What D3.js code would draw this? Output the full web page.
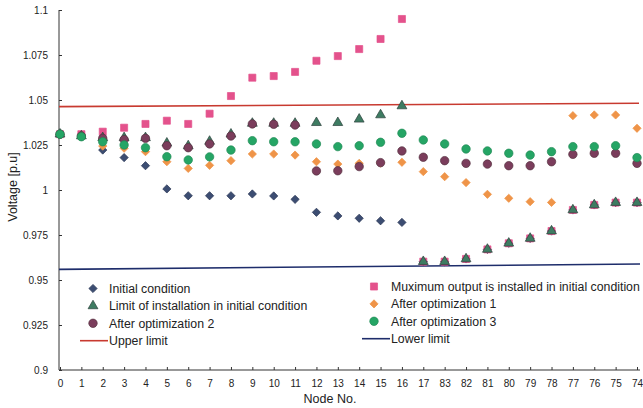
<!DOCTYPE html>
<html><head><meta charset="utf-8">
<script src="https://cdn.jsdelivr.net/npm/d3@7"></script>
<style>body{margin:0;background:#fff}svg{display:block}text{font-family:"Liberation Sans",Arial,sans-serif;fill:#222}</style>
</head><body><svg id="c" width="643" height="408"></svg>
<script>
const categories = ["0","1","2","3","4","5","6","7","8","9","10","11","12","13","14","15","16","17","83","82","81","80","79","78","77","76","75","74"];
const yTicks = [0.9,0.925,0.95,0.975,1,1.025,1.05,1.075,1.1];
const lowBranch = [0.9602,0.9602,0.9617,0.967,0.9704,0.9731,0.9772,0.9889,0.9917,0.993,0.993];
const initialCondition = [1.031,1.030,1.0222,1.018,1.0135,1.0006,0.9968,0.9968,0.9968,0.9978,0.9967,0.9948,0.9876,0.9856,0.9843,0.9829,0.982].concat(lowBranch);
const maximumOutput = [1.031,1.031,1.0324,1.0346,1.0367,1.0385,1.0367,1.0424,1.0522,1.0624,1.0633,1.0656,1.0718,1.0744,1.0783,1.0839,1.095].concat(lowBranch);
const limitInstallation = [1.031,1.030,1.029,1.029,1.029,1.026,1.0245,1.027,1.031,1.037,1.037,1.037,1.0374,1.0374,1.0393,1.0417,1.0467].concat(lowBranch);
const afterOpt1 = [1.031,1.030,1.0244,1.0232,1.0213,1.0157,1.012,1.0137,1.0163,1.020,1.020,1.0194,1.0157,1.0144,1.0148,1.015,1.0154,1.0102,1.0074,1.0041,0.9976,0.9954,0.9935,0.9931,1.0413,1.0417,1.0417,1.0343];
const afterOpt2 = [1.031,1.030,1.0287,1.028,1.0287,1.0246,1.0235,1.0256,1.030,1.0367,1.0365,1.0361,1.0106,1.0107,1.013,1.0152,1.0217,1.0182,1.0163,1.0148,1.0144,1.0135,1.0135,1.0157,1.0198,1.0204,1.0204,1.0148];
const afterOpt3 = [1.031,1.0296,1.0268,1.025,1.0235,1.0185,1.0167,1.0184,1.0222,1.0274,1.0268,1.0268,1.0256,1.0241,1.0246,1.0265,1.0315,1.0278,1.0256,1.0228,1.0217,1.0204,1.0194,1.0213,1.0241,1.0241,1.0246,1.018];
const upperLimit = [1.0463,1.0482];
const lowerLimit = [0.9559,0.9589];

const svg = d3.select("#c");
const x = d3.scalePoint().domain(categories).range([60,637]);
const y = d3.scaleLinear().domain([0.9,1.1]).range([370,10]);
const axisX = 59;

// y axis
const ya = svg.append("g").attr("transform",`translate(${axisX},0)`)
  .call(d3.axisLeft(y).tickValues(yTicks).tickSize(-3).tickPadding(11).tickFormat(d=>String(+d.toFixed(3))));
ya.select(".domain").attr("stroke","#333").attr("d","M0,10V370");
ya.selectAll("line").attr("stroke","#333");
ya.selectAll("text").attr("font-size",10).attr("fill","#333");

// x axis
const xa = svg.append("g").attr("transform","translate(0,370)")
  .call(d3.axisBottom(x).tickSize(-3).tickPadding(10));
xa.select(".domain").attr("stroke","#333").attr("d",`M${axisX},0H640`);
xa.selectAll("line").attr("stroke","#333");
xa.selectAll("text").attr("font-size",10).attr("fill","#333");

svg.append("text").attr("x",330).attr("y",403).attr("text-anchor","middle").attr("font-size",12.5).text("Node No.");
svg.append("text").attr("transform","translate(17,187) rotate(-90)").attr("text-anchor","middle").attr("font-size",12.5).text("Voltage [p.u]");

// limit lines
const first = categories[0], last = categories[categories.length-1];
svg.append("line").attr("x1",x(first)-1).attr("x2",x(last)+2).attr("y1",y(upperLimit[0])).attr("y2",y(upperLimit[1])).attr("stroke","#c83a30").attr("stroke-width",1.6);
svg.append("line").attr("x1",x(first)-1).attr("x2",x(last)+3).attr("y1",y(lowerLimit[0])).attr("y2",y(lowerLimit[1])).attr("stroke","#1e2d6b").attr("stroke-width",1.6);

const series = [
  {name:"Initial condition", data:initialCondition, sym:d3.symbolSquare, size:34, rot:45, fill:"#3c4d72", stroke:"#2c3856"},
  {name:"Muximum output is installed in initial condition", data:maximumOutput, sym:d3.symbolSquare, size:50, rot:0, fill:"#e4528c", stroke:"#e4528c"},
  {name:"Limit of installation in initial condition", data:limitInstallation, sym:d3.symbolTriangle, size:42, rot:0, fill:"#3e7c62", stroke:"#2c403c"},
  {name:"After optimization 1", data:afterOpt1, sym:d3.symbolSquare, size:34, rot:45, fill:"#ef9448", stroke:"#ef9448"},
  {name:"After optimization 2", data:afterOpt2, sym:d3.symbolCircle, size:56, rot:0, fill:"#7b3d5c", stroke:"#55303f"},
  {name:"After optimization 3", data:afterOpt3, sym:d3.symbolCircle, size:56, rot:0, fill:"#25a565", stroke:"#1f8a55"}
];
series.forEach(s=>{
  svg.append("g").selectAll("path").data(s.data).join("path")
    .attr("transform",(d,i)=>`translate(${x(categories[i])},${y(d)}) rotate(${s.rot})`)
    .attr("d",d3.symbol(s.sym,s.size)())
    .attr("fill",s.fill).attr("stroke",s.stroke).attr("stroke-width",0.7);
});

// legend
const lg = svg.append("g");
const leftItems = [series[0],series[2],series[4]];
const rightItems = [series[1],series[3],series[5]];
function legendCol(items,mx,tx,y0,lineColor,lineName,lx1){
  items.forEach((s,i)=>{
    const yy = y0 + i*17.4;
    lg.append("path").attr("transform",`translate(${mx},${yy}) rotate(${s.rot})`).attr("d",d3.symbol(s.sym,s.size)()).attr("fill",s.fill).attr("stroke",s.stroke).attr("stroke-width",0.7);
    lg.append("text").attr("x",tx).attr("y",yy+4.5).attr("font-size",12.3).text(s.name);
  });
  const yy = y0 + 3*17.4;
  lg.append("line").attr("x1",lx1).attr("x2",tx-1).attr("y1",yy).attr("y2",yy).attr("stroke",lineColor).attr("stroke-width",1.6);
  lg.append("text").attr("x",tx).attr("y",yy+4.5).attr("font-size",12.3).text(lineName);
}
legendCol(leftItems,93,109,288.5,"#c83a30","Upper limit",80);
legendCol(rightItems,374,391,286.5,"#1e2d6b","Lower limit",362);
</script></body></html>
